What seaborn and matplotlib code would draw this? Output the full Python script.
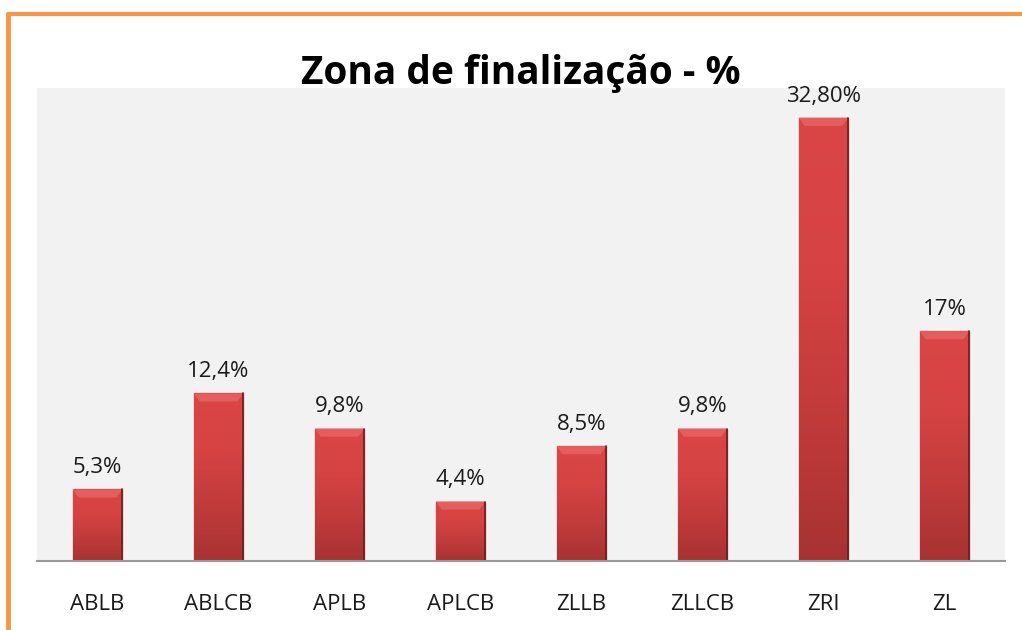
import matplotlib.pyplot as plt
import numpy as np
import pandas as pd
import seaborn as sns
from matplotlib.lines import Line2D
from matplotlib.patches import Polygon

categories = ["ABLB", "ABLCB", "APLB", "APLCB", "ZLLB", "ZLLCB", "ZRI", "ZL"]
values = [5.3, 12.4, 9.8, 4.4, 8.5, 9.8, 32.8, 17.0]
value_labels = ["5,3%", "12,4%", "9,8%", "4,4%", "8,5%", "9,8%", "32,80%", "17%"]

df = pd.DataFrame({"zona": categories, "pct": values})

sns.set_style("white")
plt.rcParams["font.family"] = ["Open Sans", "DejaVu Sans"]

fig = plt.figure(figsize=(10.22, 6.3), dpi=100)
ax = fig.add_axes([0.0362, 0.1095, 0.9472, 0.7508])
ax.set_facecolor("#F2F2F2")

sns.barplot(data=df, x="zona", y="pct", color="#D64343", width=0.41,
            edgecolor="#7E2626", linewidth=0.9, ax=ax, zorder=3)

# gradient inside bars, dark at the bottom
grad = np.linspace(0, 1, 256).reshape(-1, 1)
cmap = plt.matplotlib.colors.LinearSegmentedColormap.from_list(
    "bar", ["#A83232", "#C23B3B", "#D64343", "#DA4646"])
bevel = 0.6  # height of the light top bevel, in data units
for p in ax.patches:
    x0, y0 = p.get_x(), p.get_y()
    w, h = p.get_width(), p.get_height()
    im = ax.imshow(grad, cmap=cmap, aspect="auto", origin="lower",
                   extent=[x0, x0 + w, y0, y0 + h], zorder=3.5)
    im.set_clip_path(p)
    inset = w * 0.12
    ax.add_patch(Polygon([[x0, y0 + h], [x0 + w, y0 + h],
                          [x0 + w - inset, y0 + h - bevel], [x0 + inset, y0 + h - bevel]],
                         closed=True, facecolor="#E45E5E", edgecolor="none", zorder=4))
    ax.plot([x0 + w, x0 + w], [y0, y0 + h], color="#6E1E1E", lw=1.2, zorder=4.5)

for i, lab in enumerate(value_labels):
    ax.annotate(lab, (i, values[i]), xytext=(0, 8), textcoords="offset points",
                ha="center", va="bottom", fontsize=16, color="#1A1A1A")

ax.set_xlim(-0.5, len(categories) - 0.5)
ax.set_ylim(0, 35)
ax.set_yticks([])
ax.set_xlabel("")
ax.set_ylabel("")
ax.tick_params(axis="x", length=0, pad=24, labelsize=16, labelcolor="#1A1A1A")
for s in ["top", "right", "left"]:
    ax.spines[s].set_visible(False)
ax.spines["bottom"].set_color("#999999")
ax.spines["bottom"].set_linewidth(1.5)
ax.spines["bottom"].set_zorder(5)

fig.text(0.51, 0.884, "Zona de finalização - %", ha="center", va="center",
         fontsize=28, fontweight="bold", color="black")

# orange frame on top and left
fig.add_artist(Line2D([0.0078, 1.0], [0.9770, 0.9770], color="#F79646", lw=3,
                      transform=fig.transFigure))
fig.add_artist(Line2D([0.0078, 0.0078], [0.0, 0.9770], color="#F79646", lw=3.5,
                      transform=fig.transFigure))

fig.savefig("out.png", dpi=100)
